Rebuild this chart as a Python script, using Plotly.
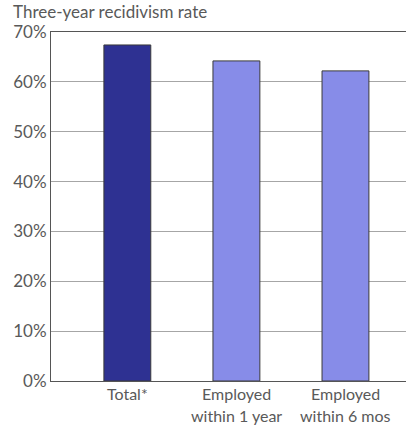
import plotly.graph_objects as go

categories_line1 = ["Total*", "Employed", "Employed"]
categories_line2 = ["", "within 1 year", "within 6 mos"]
values = [67.4, 64.2, 62.2]
colors = ["#2e3192", "#878ce8", "#878ce8"]
tick_vals = [0, 10, 20, 30, 40, 50, 60, 70]
tick_text = ["0%", "10%", "20%", "30%", "40%", "50%", "60%", "70%"]

font_family = "Lato"
grey = "#595959"
fs = 17
cat_fs = 16
plot_h = 349

xs = list(range(len(values)))

fig = go.Figure(go.Bar(
    x=xs, y=values, width=0.43,
    marker=dict(color=colors, line=dict(color="#3a3a3a", width=1)),
))

annotations = [dict(text="Three-year recidivism rate", xref="paper", yref="paper",
                    x=-40/355, y=1 + 20/plot_h, xanchor="left", yanchor="middle",
                    showarrow=False, font=dict(size=fs, color=grey))]
for x, t in zip(xs, categories_line1):
    annotations.append(dict(text=t, xref="x", yref="paper", x=x, y=-12/plot_h,
                            xanchor="center", yanchor="middle", showarrow=False,
                            font=dict(size=cat_fs, color=grey)))
for x, t in zip(xs, categories_line2):
    if t:
        annotations.append(dict(text=t, xref="x", yref="paper", x=x, y=-34/plot_h,
                                xanchor="center", yanchor="middle", showarrow=False,
                                font=dict(size=cat_fs, color=grey)))

fig.update_layout(
    width=406, height=426,
    margin=dict(l=51, r=0, t=32, b=45, pad=0, autoexpand=False),
    plot_bgcolor="white", paper_bgcolor="white",
    showlegend=False,
    font=dict(family=font_family, size=fs, color=grey),
    annotations=annotations,
)
fig.update_xaxes(
    range=[-0.70, 2.555], tickvals=xs, showticklabels=False,
    showline=True, linecolor="#555", linewidth=1, mirror=True,
    showgrid=False, ticks="",
    automargin=False,
)
fig.update_yaxes(
    range=[0, 70], tickvals=tick_vals, ticktext=tick_text,
    showline=True, linecolor="#555", linewidth=1,
    showgrid=True, gridcolor="#a6a6a6", gridwidth=1,
    ticks="", tickfont=dict(size=fs, color=grey), zeroline=False,
    automargin=False,
)

fig.write_html("out.html", config={"displayModeBar": False},
               post_script="document.body.style.margin='0';document.body.style.overflow='hidden';")
